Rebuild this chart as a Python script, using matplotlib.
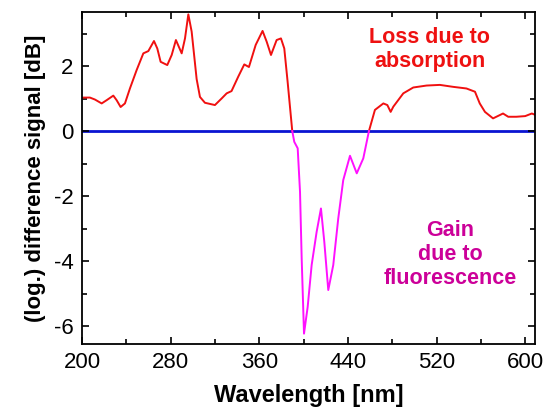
import numpy as np
import matplotlib.pyplot as plt
from matplotlib.ticker import MultipleLocator, FixedLocator

plt.rcParams['font.family'] = ['Liberation Sans', 'DejaVu Sans']
plt.rcParams['axes.unicode_minus'] = False

# absorption part (red), short-wavelength side
wl_red1 = [200, 201.2, 207.2, 211.7, 217.8, 222.3, 228.3, 231.3, 234.9, 238.8,
           243.3, 249.4, 255.4, 259.9, 265, 268, 271, 277, 281, 284.8, 290, 293,
           296, 299, 303.5, 306.5, 311, 320, 326, 330.6, 335, 341, 346.5, 350.7,
           356.8, 363, 366.7, 370.6, 375.7, 379.6, 382.6, 385.6, 389.8]
sig_red1 = [1.02, 1.03, 1.03, 0.97, 0.85, 0.95, 1.09, 0.95, 0.74, 0.85,
            1.31, 1.88, 2.39, 2.46, 2.77, 2.54, 2.13, 2.03, 2.34, 2.80, 2.39, 2.85,
            3.59, 3.06, 1.6, 1.05, 0.87, 0.8, 1.0, 1.16, 1.23, 1.67, 2.05, 1.97,
            2.65, 3.08, 2.75, 2.34, 2.8, 2.85, 2.54, 1.52, 0.0]

# fluorescence part (magenta)
wl_mag = [389.8, 391.6, 394.7, 396.8, 398.3, 400.4, 403.7, 407.3, 411.8, 415.7,
          418.7, 422.3, 426.8, 431.3, 435.8, 441.9, 448, 453.9, 459]
sig_mag = [0.0, -0.33, -0.53, -1.87, -3.92, -6.23, -5.41, -4.12, -3.1, -2.38,
           -3.40, -4.89, -4.12, -2.69, -1.51, -0.76, -1.30, -0.84, 0.0]

# absorption part (red), long-wavelength side
wl_red2 = [459, 464.4, 472, 475.6, 478.6, 481, 490, 499, 511, 523, 535, 547,
           554.7, 559, 563.7, 571, 580, 584.7, 592, 600, 606, 609]
sig_red2 = [0.0, 0.65, 0.85, 0.8, 0.59, 0.75, 1.16, 1.34, 1.4, 1.42, 1.36, 1.31,
            1.21, 0.85, 0.59, 0.39, 0.54, 0.44, 0.44, 0.46, 0.54, 0.5]

fig, ax = plt.subplots(figsize=(5.5, 4.16), dpi=100)
fig.subplots_adjust(left=0.149, right=0.973, top=0.971, bottom=0.173)

ax.axhline(0, color='#0a14d2', lw=2, zorder=1)
ax.plot(wl_red1, sig_red1, color='#f01010', lw=1.4)
ax.plot(wl_red2, sig_red2, color='#f01010', lw=1.4)
ax.plot(wl_mag, sig_mag, color='#ff10ff', lw=1.4)

ax.text(514, 2.5, 'Loss due to\nabsorption', color='#ee1111', fontsize=15.5,
        fontweight='bold', ha='center', va='center', linespacing=1.2)
ax.text(532, -3.8, 'Gain\ndue to\nfluorescence', color='#cc0099', fontsize=15.5,
        fontweight='bold', ha='center', va='center', linespacing=1.2)

ax.set_xlim(200, 609)
ax.set_ylim(-6.55, 3.66)
ax.xaxis.set_major_locator(FixedLocator([200, 280, 360, 440, 520, 600]))
ax.xaxis.set_minor_locator(MultipleLocator(40))
ax.yaxis.set_major_locator(MultipleLocator(2))
ax.yaxis.set_minor_locator(MultipleLocator(1))
ax.tick_params(which='both', direction='in', top=True, right=True, width=1.2,
               labelsize=16)
ax.tick_params(which='major', length=5, pad=6)
ax.tick_params(which='minor', length=3.5)
for s in ax.spines.values():
    s.set_linewidth(1.3)

ax.set_xlabel('Wavelength [nm]', fontsize=17, fontweight='bold', labelpad=8)
ax.set_ylabel('(log.) difference signal [dB]', fontsize=16, fontweight='bold',
              labelpad=6)

plt.savefig('out.png')
